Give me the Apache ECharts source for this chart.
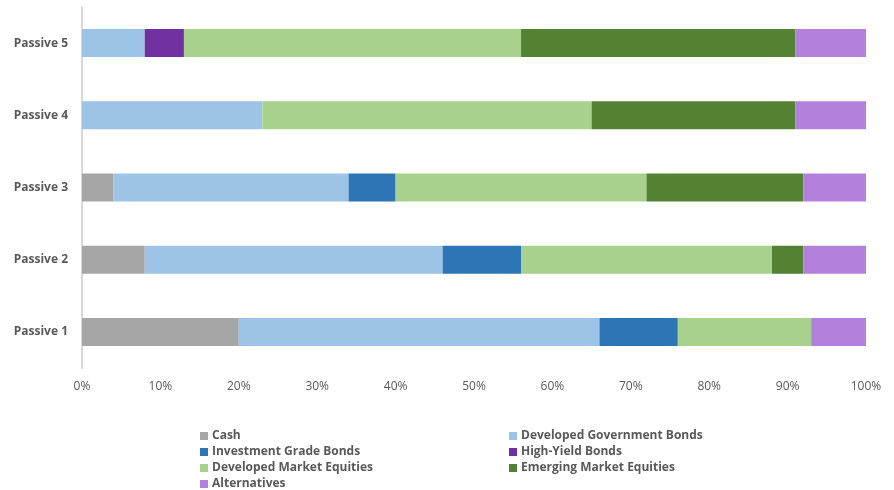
<!DOCTYPE html>
<html>
<head>
<meta charset="utf-8">
<script src="https://cdn.jsdelivr.net/npm/echarts@6/dist/echarts.min.js"></script>
<style>
  html, body { margin: 0; padding: 0; background: #ffffff; }
  #chart { width: 894px; height: 490px; }
</style>
</head>
<body>
<div id="chart"></div>
<script>
// Portfolio allocation (% of total) per passive model
const categories = ['Passive 1', 'Passive 2', 'Passive 3', 'Passive 4', 'Passive 5'];
const cash = [20, 8, 4, 0, 0];
const developedGovBonds = [46, 38, 30, 23, 8];
const investmentGradeBonds = [10, 10, 6, 0, 0];
const highYieldBonds = [0, 0, 0, 0, 5];
const developedEquities = [17, 32, 32, 42, 43];
const emergingEquities = [0, 4, 20, 26, 35];
const alternatives = [7, 8, 8, 9, 9];
const tickLabels = ['0%', '10%', '20%', '30%', '40%', '50%', '60%', '70%', '80%', '90%', '100%'];

const seriesDefs = [
  { name: 'Cash', data: cash, color: '#A5A5A5' },
  { name: 'Developed Government Bonds', data: developedGovBonds, color: '#9DC3E6' },
  { name: 'Investment Grade Bonds', data: investmentGradeBonds, color: '#2E75B6' },
  { name: 'High-Yield Bonds', data: highYieldBonds, color: '#7030A0' },
  { name: 'Developed Market Equities', data: developedEquities, color: '#A9D18E' },
  { name: 'Emerging Market Equities', data: emergingEquities, color: '#548235' },
  { name: 'Alternatives', data: alternatives, color: '#B381DB' }
];

const font = '"Open Sans", "Liberation Sans", sans-serif';
const textColor = '#595959';

const legendCommon = {
  orient: 'vertical',
  height: 80,
  padding: 0,
  itemWidth: 8,
  itemHeight: 8,
  itemGap: 2,
  icon: 'rect',
  selectedMode: false,
  textStyle: { color: textColor, fontFamily: font, fontSize: 12, fontWeight: 'bold', lineHeight: 14, padding: [0, 0, 0, -1] }
};

const chart = echarts.init(document.getElementById('chart'), null, { renderer: 'canvas' });
chart.setOption({
  animation: false,
  backgroundColor: '#ffffff',
  grid: { left: 82, right: 28, top: 7, height: 361 },
  legend: [
    Object.assign({ left: 200, top: 429, data: ['Cash', 'Investment Grade Bonds', 'Developed Market Equities', 'Alternatives'] }, legendCommon),
    Object.assign({ left: 509, top: 429, data: ['Developed Government Bonds', 'High-Yield Bonds', 'Emerging Market Equities'] }, legendCommon)
  ],
  xAxis: {
    type: 'value',
    min: 0,
    max: 100,
    interval: 10,
    axisLine: { show: false },
    axisTick: { show: false },
    splitLine: { show: false },
    axisLabel: {
      color: textColor,
      fontFamily: font,
      fontSize: 12,
      margin: 13,
      formatter: function (v) { return tickLabels[Math.round(v / 10)]; }
    }
  },
  yAxis: {
    type: 'category',
    data: categories,
    axisLine: { show: true, lineStyle: { color: '#D9D9D9', width: 2 } },
    axisTick: { show: false },
    axisLabel: {
      color: textColor,
      fontFamily: font,
      fontSize: 12,
      fontWeight: 'bold',
      margin: 14
    }
  },
  series: seriesDefs.map(function (s) {
    return {
      name: s.name,
      type: 'bar',
      stack: 'total',
      barWidth: 28,
      data: s.data,
      itemStyle: { color: s.color },
      emphasis: { disabled: true }
    };
  })
});
</script>
</body>
</html>
